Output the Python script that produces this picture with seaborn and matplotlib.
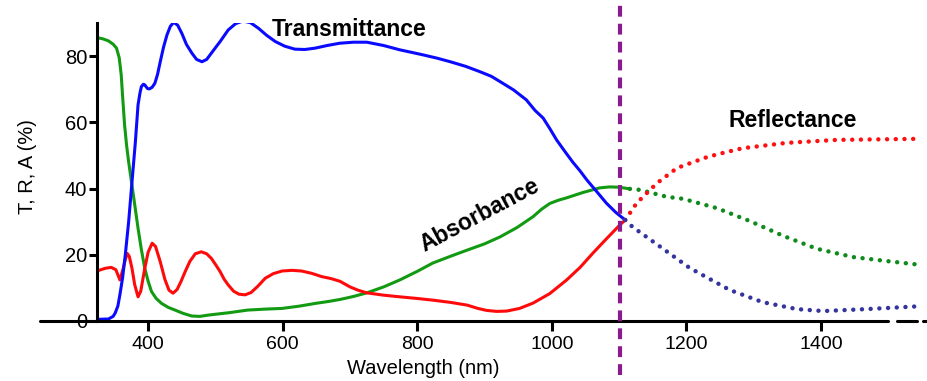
import matplotlib
matplotlib.use("Agg")
import matplotlib.pyplot as plt
import seaborn as sns
from matplotlib.lines import Line2D

# Transmittance: measured range (solid) and extension beyond the band edge (dotted)
t_wl = [324, 341, 348, 351, 355, 358, 362, 366, 371, 376, 381, 385, 388, 390, 393,
        395, 399, 402, 406, 410, 414, 418, 423, 428, 433, 438, 444, 450, 457, 465,
        472, 480, 487, 494, 501, 507, 519, 530, 541, 552, 564, 576, 589, 603, 618,
        633, 648, 666, 685, 705, 725, 750, 774, 790, 808, 829, 849, 872, 893, 910,
        923, 943, 962, 975, 987, 997, 1007, 1019, 1031, 1042, 1052, 1067, 1081, 1095, 1109]
t_val = [0.5, 0.6, 1.4, 2.4, 4.5, 7.9, 13.0, 19.9, 29.9, 42.0, 54.0, 65.3, 69.0, 70.8, 71.5,
         71.3, 70.2, 70.1, 70.6, 71.8, 74.5, 78.3, 82.8, 86.4, 89.0, 90.2, 89.3, 86.9, 83.5, 80.9,
         79.0, 78.3, 79.0, 80.9, 82.8, 84.4, 87.9, 89.8, 90.6, 90.1, 88.4, 86.3, 84.4, 83.0, 82.1,
         82.0, 82.4, 83.2, 83.9, 84.2, 84.2, 83.2, 81.9, 81.2, 80.4, 79.4, 78.3, 76.9, 75.3, 73.9,
         72.3, 69.8, 66.8, 63.6, 61.3, 58.1, 54.7, 51.3, 48.0, 45.3, 42.6, 39.0, 35.6, 32.8, 30.5]
t_ext_wl = [1109, 1120, 1164, 1205, 1264, 1313, 1364, 1403, 1468, 1551]
t_ext_val = [30.5, 28.4, 22.0, 16.0, 9.4, 5.7, 3.6, 3.0, 3.6, 4.5]

# Reflectance
r_wl = [324, 336, 345, 352, 358, 363, 366, 369, 372, 376, 380, 385, 389, 395, 400,
        406, 411, 418, 425, 431, 437, 443, 449, 455, 462, 470, 479, 487, 494, 501,
        507, 513, 519, 527, 535, 544, 553, 563, 574, 586, 599, 614, 628, 643, 658,
        672, 685, 700, 712, 725, 750, 774, 800, 823, 850, 874, 890, 903, 918, 933,
        952, 972, 997, 1022, 1042, 1061, 1081, 1101, 1109]
r_val = [15.1, 15.9, 16.2, 15.5, 12.4, 15.9, 18.5, 20.4, 19.5, 15.9, 11.0, 7.3, 9.0, 15.9, 20.8,
         23.5, 22.5, 17.9, 12.5, 9.3, 8.4, 9.5, 12.0, 14.9, 18.0, 20.3, 20.9, 20.3, 18.9, 16.8,
         14.9, 12.6, 10.9, 9.0, 8.1, 7.9, 8.6, 10.5, 12.9, 14.3, 15.1, 15.3, 15.1, 14.4, 13.4,
         12.8, 12.0, 10.3, 9.3, 8.5, 7.8, 7.3, 6.8, 6.3, 5.6, 4.8, 3.8, 3.2, 2.9, 3.0,
         3.8, 5.4, 8.3, 12.4, 16.2, 20.5, 24.8, 29.0, 30.5]
r_ext_wl = [1109, 1126, 1156, 1186, 1210, 1232, 1259, 1284, 1349, 1424, 1540]
r_ext_val = [30.5, 35.6, 41.6, 46.2, 48.0, 49.6, 51.0, 52.2, 53.8, 54.7, 55.0]

# Absorbance
a_wl = [324, 333, 341, 348, 353, 357, 360, 362, 365, 368, 371, 378, 385, 390, 395,
        400, 405, 412, 420, 430, 440, 452, 465, 477, 490, 520, 548, 575, 599, 625,
        648, 668, 685, 705, 725, 750, 774, 800, 823, 850, 874, 900, 923, 948, 972,
        985, 997, 1010, 1022, 1046, 1071, 1086, 1100, 1116]
a_val = [85.6, 85.2, 84.6, 83.6, 82.4, 79.5, 74.3, 68.0, 59.2, 53.0, 48.1, 38.1, 28.0, 21.5, 15.9,
         12.0, 8.9, 6.8, 5.3, 4.1, 3.3, 2.3, 1.5, 1.4, 1.8, 2.5, 3.3, 3.6, 3.8, 4.5,
         5.3, 5.9, 6.5, 7.4, 8.5, 10.3, 12.4, 15.0, 17.5, 19.6, 21.4, 23.3, 25.4, 28.2, 31.5,
         33.8, 35.5, 36.5, 37.2, 38.8, 40.2, 40.5, 40.4, 39.9]
a_ext_wl = [1116, 1131, 1171, 1195, 1245, 1294, 1344, 1394, 1448, 1498, 1550]
a_ext_val = [39.9, 39.6, 37.5, 36.9, 34.1, 30.2, 25.7, 21.8, 19.3, 18.1, 16.9]

band_edge = 1101
x_ticks = [400, 600, 800, 1000, 1200, 1400]
y_ticks = [0, 20, 40, 60, 80]

sns.set_theme(style="ticks")
plt.rcParams["font.family"] = ["Liberation Sans", "DejaVu Sans"]

fig = plt.figure(figsize=(9.28, 3.81), dpi=100)
ax = fig.add_axes([97 / 928, 60 / 381, 831 / 928, 298 / 381])

dotted = dict(linestyle=(0, (0.01, 1.95)), dash_capstyle="round", linewidth=3.2)
solid = dict(linewidth=2.2)

sns.lineplot(x=a_wl, y=a_val, ax=ax, color="#129a12", sort=False, estimator=None, **solid)
sns.lineplot(x=r_wl, y=r_val, ax=ax, color="#ff0a0a", sort=False, estimator=None, **solid)
sns.lineplot(x=t_wl, y=t_val, ax=ax, color="#0a0aff", sort=False, estimator=None, **solid)
sns.lineplot(x=a_ext_wl, y=a_ext_val, ax=ax, color="#108a1c", sort=False, estimator=None, **dotted)
sns.lineplot(x=r_ext_wl, y=r_ext_val, ax=ax, color="#ff1010", sort=False, estimator=None, **dotted)
sns.lineplot(x=t_ext_wl, y=t_ext_val, ax=ax, color="#34349e", sort=False, estimator=None, **dotted)

# band-edge marker
ax.plot([band_edge, band_edge], [-16.3, 95.5], color="#8a1a8e", linewidth=3.0,
        linestyle=(0, (2.6, 1.7)), clip_on=False, zorder=5)

ax.set_xlim(324, 1559)
ax.set_ylim(0, 90)
ax.set_xticks(x_ticks)
ax.set_yticks(y_ticks)
ax.tick_params(axis="x", length=7, width=2.2, labelsize=14, pad=4, color="black", labelcolor="black")
ax.tick_params(axis="y", length=6, width=2.2, labelsize=14.5, pad=1, color="black", labelcolor="black")

for side in ("top", "right", "bottom"):
    ax.spines[side].set_visible(False)
ax.spines["left"].set_linewidth(2.2)
ax.spines["left"].set_color("black")

# wavelength axis line, running past the y axis on the left
for x0, x1 in [(-0.0686, 0.952), (0.963, 0.987), (0.994, 0.999)]:
    ax.add_line(Line2D([x0, x1], [0, 0], transform=ax.transAxes, color="black",
                       linewidth=2.2, clip_on=False))

ax.set_xlabel("Wavelength (nm)", fontsize=14.5, color="black")
ax.xaxis.set_label_coords(0.392, -0.128)
ax.set_ylabel("T, R, A (%)", fontsize=14.5, color="black")
ax.yaxis.set_label_coords(-0.072, 0.517)

label_kw = dict(fontsize=16.5, fontweight="bold", color="black", ha="center", va="center")
ax.text(698, 88.0, "Transmittance", **label_kw)
ax.text(1358, 60.7, "Reflectance", **label_kw)
ax.text(893, 32, "Absorbance", rotation=28, rotation_mode="anchor", **label_kw)

fig.savefig("out.png", dpi=100)
